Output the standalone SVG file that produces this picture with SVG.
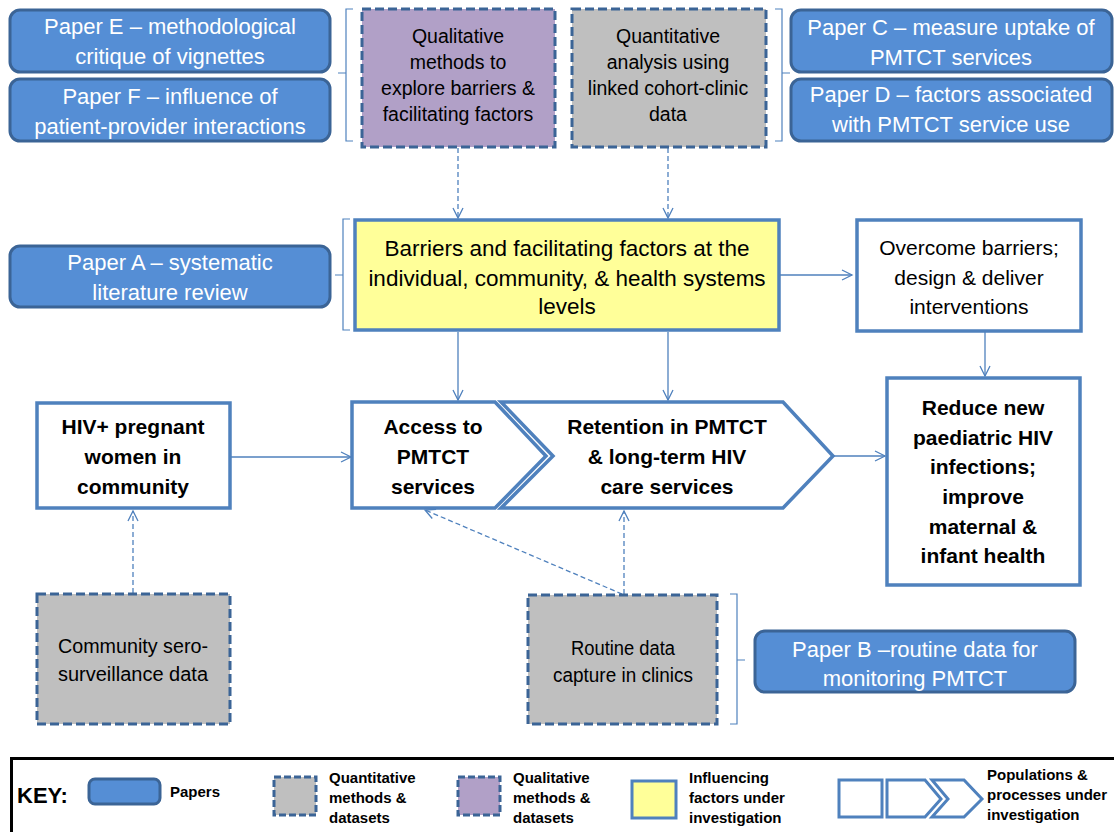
<svg xmlns="http://www.w3.org/2000/svg" width="1114" height="832" viewBox="0 0 1114 832">
  <style>
    text { font-family: "Liberation Sans", Arial, sans-serif; text-anchor: middle; }
    .paper { fill: #558ED5; stroke: #3B6496; stroke-width: 3; }
    .paper-t { fill: #FFFFFF; font-size: 22px; }
    .quant { fill: #BFBFBF; stroke: #3B6496; stroke-width: 3; stroke-dasharray: 9 4; }
    .qual { fill: #B1A0C7; stroke: #3B6496; stroke-width: 3; stroke-dasharray: 9 4; }
    .factor { fill: #FFFF99; stroke: #4F81BD; stroke-width: 3.5; }
    .proc { fill: #FFFFFF; stroke: #4F81BD; stroke-width: 3.5; }
    .dark-t { fill: #000000; font-size: 19.5px; }
    .big-t { fill: #000000; font-size: 21px; }
    .yel-t { fill: #000000; font-size: 22.5px; }
    .bold-t { fill: #000000; font-size: 21px; font-weight: bold; }
    .key-t { fill: #000000; font-size: 15px; font-weight: bold; text-anchor: start; }
    .conn { fill: none; stroke: #4F81BD; stroke-width: 1.3; marker-end: url(#open); }
    .dash { stroke-dasharray: 5 3; }
    .brace { fill: none; stroke: #4F81BD; stroke-width: 1.2; }
  </style>
  <defs>
    <marker id="open" markerUnits="userSpaceOnUse" markerWidth="14" markerHeight="14" refX="11" refY="6" orient="auto">
      <path d="M1,1 L11,6 L1,11" fill="none" stroke="#4F81BD" stroke-width="1.3"/>
    </marker>
  </defs>

  <rect width="1114" height="832" fill="#FFFFFF"/>

  <!-- connectors -->
  <g id="connectors">
    <path class="conn dash" d="M458,148 L458,218"/>
    <path class="conn dash" d="M668,148 L668,218"/>
    <path class="conn" d="M779,275 L852,275"/>
    <path class="conn" d="M985,332 L985,376"/>
    <path class="conn" d="M458,332 L458,400"/>
    <path class="conn" d="M668,332 L668,400"/>
    <path class="conn" d="M231,457 L351,457"/>
    <path class="conn" d="M834,456 L885,456"/>
    <path class="conn dash" d="M133,593 L133,511"/>
    <path class="conn dash" d="M624,594 L624,511"/>
    <path class="conn dash" d="M622,594 L425,510"/>
    <!-- braces -->
    <path class="brace" d="M353,9 L346,9 L346,73 L338,73 M346,73 L346,141 L353,141"/>
    <path class="brace" d="M775,9 L782,9 L782,73 L790,73 M782,73 L782,141 L775,141"/>
    <path class="brace" d="M350,219 L343,219 L343,275 L335,275 M343,275 L343,330 L350,330"/>
    <path class="brace" d="M730,594 L737,594 L737,660 L745,660 M737,660 L737,724 L730,724"/>
  </g>

  <!-- papers -->
  <g id="paper-e">
    <rect class="paper" x="10" y="10" width="320" height="62" rx="10"/>
    <text class="paper-t" x="170" y="34">Paper E – methodological</text>
    <text class="paper-t" x="170" y="64">critique of vignettes</text>
  </g>
  <g id="paper-f">
    <rect class="paper" x="10" y="79" width="320" height="62" rx="10"/>
    <text class="paper-t" x="170" y="104">Paper F – influence of</text>
    <text class="paper-t" x="170" y="134">patient-provider interactions</text>
  </g>
  <g id="paper-c">
    <rect class="paper" x="791" y="10" width="321" height="62" rx="10"/>
    <text class="paper-t" x="951" y="35">Paper C – measure uptake of</text>
    <text class="paper-t" x="951" y="65">PMTCT services</text>
  </g>
  <g id="paper-d">
    <rect class="paper" x="791" y="79" width="321" height="62" rx="10"/>
    <text class="paper-t" x="951" y="102">Paper D – factors associated</text>
    <text class="paper-t" x="951" y="132">with PMTCT service use</text>
  </g>
  <g id="paper-a">
    <rect class="paper" x="10" y="246" width="320" height="61" rx="10"/>
    <text class="paper-t" x="170" y="270">Paper A – systematic</text>
    <text class="paper-t" x="170" y="300">literature review</text>
  </g>
  <g id="paper-b">
    <rect class="paper" x="755" y="631" width="320" height="61" rx="10"/>
    <text class="paper-t" x="915" y="657">Paper B –routine data for</text>
    <text class="paper-t" x="915" y="686">monitoring PMTCT</text>
  </g>

  <!-- methods and datasets -->
  <g id="qualitative-methods">
    <rect class="qual" x="362" y="9" width="193" height="138"/>
    <text class="dark-t" x="458" y="43">Qualitative</text>
    <text class="dark-t" x="458" y="69">methods to</text>
    <text class="dark-t" x="458" y="95">explore barriers &amp;</text>
    <text class="dark-t" x="458" y="121">facilitating factors</text>
  </g>
  <g id="quantitative-analysis">
    <rect class="quant" x="572" y="9" width="194" height="138"/>
    <text class="dark-t" x="668" y="43">Quantitative</text>
    <text class="dark-t" x="668" y="69">analysis  using</text>
    <text class="dark-t" x="668" y="95">linked cohort-clinic</text>
    <text class="dark-t" x="668" y="121">data</text>
  </g>
  <g id="community-data">
    <rect class="quant" x="37" y="594" width="193" height="130"/>
    <text class="dark-t" x="133" y="653" textLength="150" lengthAdjust="spacingAndGlyphs">Community sero-</text>
    <text class="dark-t" x="133" y="681" textLength="150" lengthAdjust="spacingAndGlyphs">surveillance data</text>
  </g>
  <g id="routine-data">
    <rect class="quant" x="528" y="595" width="189" height="129"/>
    <text class="dark-t" x="623" y="655" textLength="104" lengthAdjust="spacingAndGlyphs">Routine data</text>
    <text class="dark-t" x="623" y="682" textLength="140" lengthAdjust="spacingAndGlyphs">capture in clinics</text>
  </g>

  <!-- influencing factors -->
  <g id="barriers">
    <rect class="factor" x="355" y="220" width="424" height="110"/>
    <text class="yel-t" x="567" y="256">Barriers and facilitating factors at the</text>
    <text class="yel-t" x="567" y="286">individual, community, &amp; health systems</text>
    <text class="yel-t" x="567" y="314">levels</text>
  </g>
  <g id="interventions">
    <rect class="proc" x="857" y="220" width="224" height="111"/>
    <text class="big-t" x="969" y="255">Overcome barriers;</text>
    <text class="big-t" x="969" y="285">design &amp; deliver</text>
    <text class="big-t" x="969" y="314">interventions</text>
  </g>

  <!-- populations and processes -->
  <g id="hiv-women">
    <rect class="proc" x="37" y="403" width="193" height="105"/>
    <text class="bold-t" x="133" y="434">HIV+ pregnant</text>
    <text class="bold-t" x="133" y="464">women in</text>
    <text class="bold-t" x="133" y="494">community</text>
  </g>
  <g id="access">
    <path class="proc" d="M352,402 L495,402 L546,456 L495,508 L352,508 Z"/>
    <text class="bold-t" x="433" y="434">Access to</text>
    <text class="bold-t" x="433" y="464">PMTCT</text>
    <text class="bold-t" x="433" y="494">services</text>
  </g>
  <g id="retention">
    <path class="proc" d="M501,402 L783,402 L833,456 L783,508 L501,508 L553,456 Z"/>
    <text class="bold-t" x="667" y="434">Retention in PMTCT</text>
    <text class="bold-t" x="667" y="464">&amp; long-term HIV</text>
    <text class="bold-t" x="667" y="494">care services</text>
  </g>
  <g id="outcomes">
    <rect class="proc" x="887" y="378" width="193" height="207"/>
    <text class="bold-t" x="983" y="415">Reduce new</text>
    <text class="bold-t" x="983" y="445">paediatric HIV</text>
    <text class="bold-t" x="983" y="474">infections;</text>
    <text class="bold-t" x="983" y="504">improve</text>
    <text class="bold-t" x="983" y="534">maternal &amp;</text>
    <text class="bold-t" x="983" y="563">infant health</text>
  </g>

  <!-- key -->
  <g id="key">
    <rect x="11.5" y="758.5" width="1110" height="80" fill="#FFFFFF" stroke="#000000" stroke-width="3"/>
    <text x="17" y="803" style="text-anchor:start;font-size:22px;font-weight:bold;fill:#000">KEY:</text>
    <rect class="paper" x="89" y="779" width="71" height="25" rx="6"/>
    <text class="key-t" x="170" y="797">Papers</text>
    <rect class="quant" x="274" y="777" width="42" height="38" style="stroke-dasharray:7 3"/>
    <text class="key-t" x="329" y="783">Quantitative</text>
    <text class="key-t" x="329" y="803">methods &amp;</text>
    <text class="key-t" x="329" y="823">datasets</text>
    <rect class="qual" x="458" y="777" width="42" height="38" style="stroke-dasharray:7 3"/>
    <text class="key-t" x="513" y="783">Qualitative</text>
    <text class="key-t" x="513" y="803">methods &amp;</text>
    <text class="key-t" x="513" y="823">datasets</text>
    <rect class="factor" x="632" y="781" width="44" height="37" style="stroke-width:3"/>
    <text class="key-t" x="689" y="783">Influencing</text>
    <text class="key-t" x="689" y="803">factors under</text>
    <text class="key-t" x="689" y="823">investigation</text>
    <rect class="proc" x="839" y="780" width="43" height="37" style="stroke-width:3"/>
    <path class="proc" d="M887,780 L925,780 L941,799 L925,817 L887,817 Z" style="stroke-width:3"/>
    <path class="proc" d="M932,780 L964,780 L982,799 L964,817 L932,817 L948,799 Z" style="stroke-width:3"/>
    <text class="key-t" x="987" y="780">Populations &amp;</text>
    <text class="key-t" x="987" y="800">processes under</text>
    <text class="key-t" x="987" y="820">investigation</text>
  </g>
</svg>
